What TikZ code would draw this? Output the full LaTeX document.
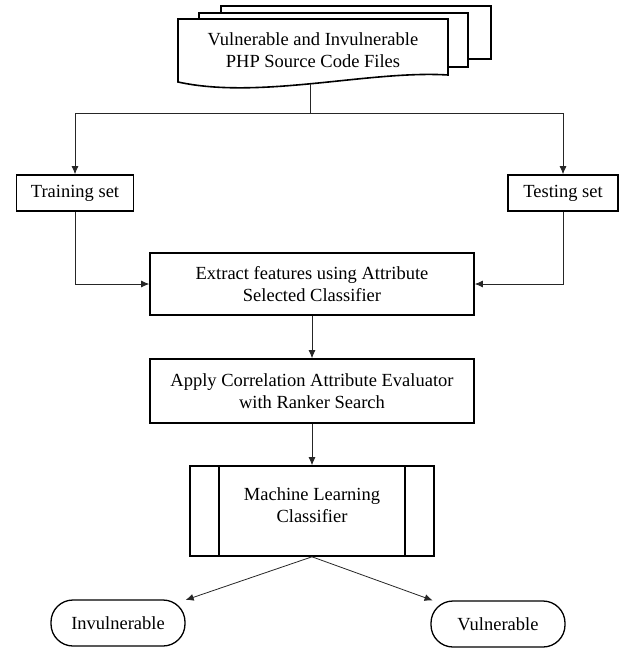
\documentclass[tikz,border=0pt]{standalone}
\usepackage{fontspec}
\setmainfont{Liberation Serif}
\usetikzlibrary{arrows.meta}

\tikzset{
  box/.style={draw, line width=1.6pt, align=center, inner sep=0pt},
  pill/.style={draw, line width=1.3pt, rounded corners=22pt, minimum width=134pt, minimum height=46pt, inner sep=0pt},
  link/.style={line width=0.8pt, black!85},
  arr/.style={link, -{Latex[length=8pt,width=7pt]}},
}

\begin{document}
\begin{tikzpicture}[x=1pt,y=-1pt,font=\fontsize{18.5}{22.5}\selectfont]
    \useasboundingbox (0,0) rectangle (620,648);

    % stacked files
    \draw[line width=1.6pt,fill=white] (221,6) rectangle (491,59);
    \draw[line width=1.6pt,fill=white] (199,13) rectangle (468,67);
    \draw[line width=1.6pt,fill=white] (178,19) -- (448,19) -- (448,75) .. controls (370,70) and (260,100) .. (178,82) -- cycle;
    \node[align=center] (files) at (313,50) {Vulnerable and Invulnerable\\PHP Source Code Files};
    \coordinate (filesbot) at (310,84);
    \coordinate (split) at (310,113);

    \node[box,minimum width=117pt,minimum height=36pt] (train) at (75,193) {Training set};
    \node[box,minimum width=110pt,minimum height=36pt] (test) at (563,193) {Testing set};
    \node[box,minimum width=324pt,minimum height=62pt] (extract) at (312,284) {Extract features using Attribute\\Selected Classifier};
    \node[box,minimum width=324pt,minimum height=64pt] (apply) at (312,391) {Apply Correlation Attribute Evaluator\\with Ranker Search};
    \node[box,minimum width=244pt,minimum height=90pt,label={[align=center,yshift=6pt]center:Machine Learning\\Classifier}] (ml) at (312,511) {};
    \draw[line width=1.6pt] ([xshift=30pt]ml.north west) -- ([xshift=30pt]ml.south west)
                            ([xshift=-30pt]ml.north east) -- ([xshift=-30pt]ml.south east);
    \node[pill] (inv) at (118,623) {Invulnerable};
    \node[pill] (vul) at (498,624) {Vulnerable};

    \draw[link] (filesbot) -- (split);
    \draw[arr] (split) -| (train);
    \draw[arr] (split) -| (test);
    \draw[arr] (train) |- (extract);
    \draw[arr] (test) |- (extract);
    \draw[arr] (extract) -- (apply);
    \draw[arr] (apply) -- (ml);
    \draw[arr] (ml.south) -- (inv);
    \draw[arr] (ml.south) -- (vul);
  \end{tikzpicture}
\end{document}
